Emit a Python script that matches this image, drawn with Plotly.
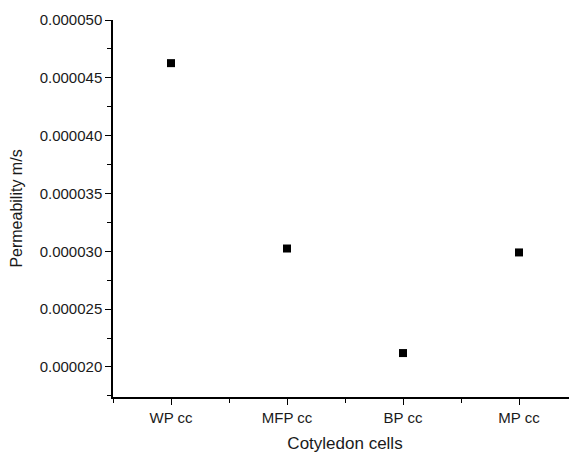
import plotly.graph_objects as go

categories = ["WP cc", "MFP cc", "BP cc", "MP cc"]
positions = [1, 2, 3, 4]
permeability = [4.627e-5, 3.024e-5, 2.12e-5, 2.99e-5]
y_ticks = [2.0e-5, 2.5e-5, 3.0e-5, 3.5e-5, 4.0e-5, 4.5e-5, 5.0e-5]

fig = go.Figure()
fig.add_trace(go.Scatter(
    x=positions, y=permeability, mode="markers",
    marker=dict(symbol="square", size=8, color="black"),
    showlegend=False,
))

font = dict(family="Liberation Sans, Arial, sans-serif", color="#1a1a1a")
fig.update_layout(
    width=569, height=445,
    margin=dict(l=105, r=0, t=12, b=56, autoexpand=False),
    paper_bgcolor="white", plot_bgcolor="white",
    font=font,
    xaxis=dict(
        range=[0.5, 4.5], tickvals=positions, ticktext=categories,
        automargin=False,
        showgrid=False, zeroline=False, showline=True, linecolor="black", linewidth=1.5,
        ticks="outside", ticklen=6, tickwidth=1.2, tickcolor="black",
        tickfont=dict(size=15, **font),
        minor=dict(tick0=0.5, dtick=1, ticks="outside", ticklen=4, tickwidth=1.2, tickcolor="black"),
        title=dict(text="Cotyledon cells", font=dict(size=17, **font), standoff=15),
    ),
    yaxis=dict(
        range=[1.74e-5, 5.0e-5], tickvals=y_ticks, tickformat=".6f",
        automargin=False,
        showgrid=False, zeroline=False, showline=True, linecolor="black", linewidth=1.5,
        ticks="outside", ticklen=6, tickwidth=1.2, tickcolor="black",
        tickfont=dict(size=15, **font),
        minor=dict(tick0=2.25e-5, dtick=5e-6, ticks="outside", ticklen=4, tickwidth=1.2, tickcolor="black"),
        title=dict(text="Permeability m/s", font=dict(size=16, **font), standoff=13),
    ),
)

fig.write_html("out.html")
